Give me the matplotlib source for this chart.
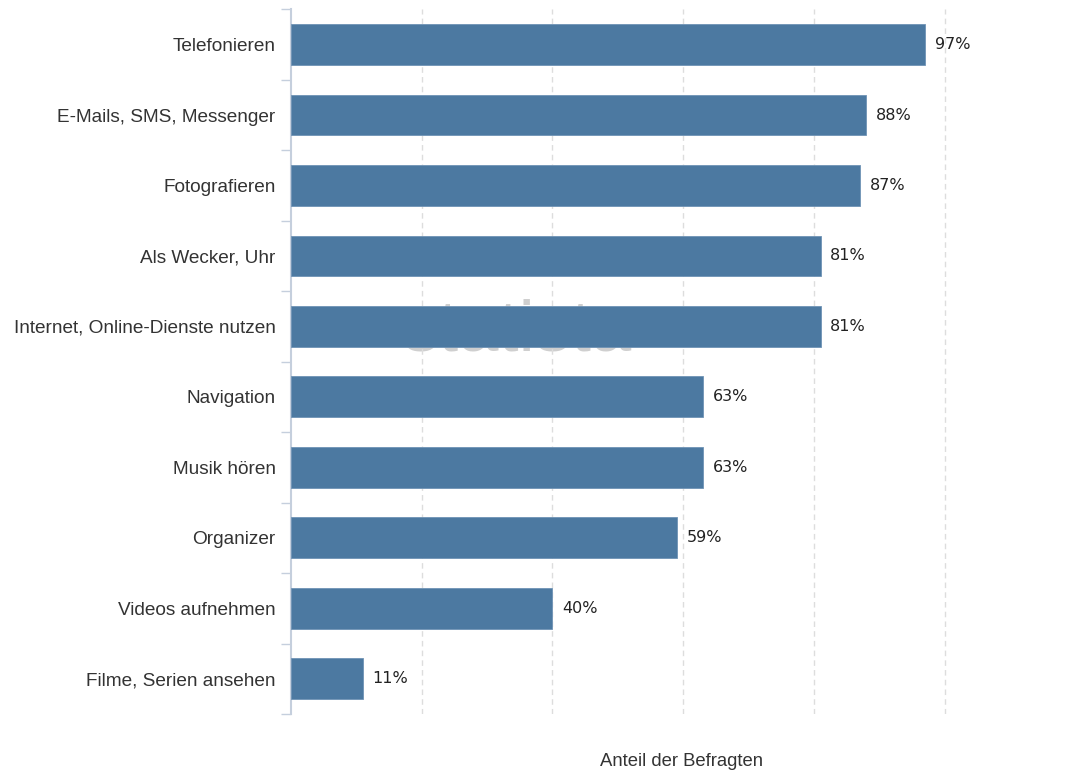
import numpy as np
import matplotlib.pyplot as plt
from matplotlib.ticker import FixedLocator

categories = ["Telefonieren", "E-Mails, SMS, Messenger", "Fotografieren",
              "Als Wecker, Uhr", "Internet, Online-Dienste nutzen", "Navigation",
              "Musik hören", "Organizer", "Videos aufnehmen", "Filme, Serien ansehen"]
values = [97, 88, 87, 81, 81, 63, 63, 59, 40, 11]
bar_color = "#4c79a1"

fig = plt.figure(figsize=(10.67, 7.71), dpi=100)
ax = fig.add_axes([0.2727, 0.0739, 0.674, 0.914])

y = np.arange(len(categories))
ax.barh(y, values, height=0.58, color=bar_color, edgecolor="#6f93b5", linewidth=0.6, zorder=3)

for yi, v in zip(y, values):
    ax.annotate(f"{v}%", (v, yi), xytext=(7, 0), textcoords="offset points",
                va="center", ha="left", fontsize=11.5, color="#222222",
                family="DejaVu Sans", zorder=4)

ax.set_xlim(0, 110)
ax.set_ylim(len(categories) - 0.5, -0.5)
ax.set_yticks(y)
ax.set_yticklabels(categories, fontsize=13.7, family="Liberation Sans", color="#333333")
ax.tick_params(axis="y", which="major", length=0, pad=11)
ax.yaxis.set_minor_locator(FixedLocator(np.arange(-0.5, len(categories), 1.0)))
ax.tick_params(axis="y", which="minor", length=7, color="#c5cfdd", width=1)
ax.set_xticks([20, 40, 60, 80, 100])
ax.tick_params(axis="x", length=0, labelbottom=False)
ax.grid(axis="x", linestyle=(0, (4, 3)), color="#dddddd", linewidth=1, zorder=0)

for s in ["top", "right", "bottom"]:
    ax.spines[s].set_visible(False)
ax.spines["left"].set_color("#c5cfdd")
ax.spines["left"].set_linewidth(1.5)

# faint watermark behind the bars
ax.text(17.0, 4.34, "statista", fontsize=52, color="#cfcfcf",
        ha="left", va="baseline", family="Liberation Sans", zorder=1)

fig.text(0.639, 0.012, "Anteil der Befragten", fontsize=13.3, family="Liberation Sans",
         color="#333333", ha="center", va="center")

fig.savefig("out.png", dpi=100)
